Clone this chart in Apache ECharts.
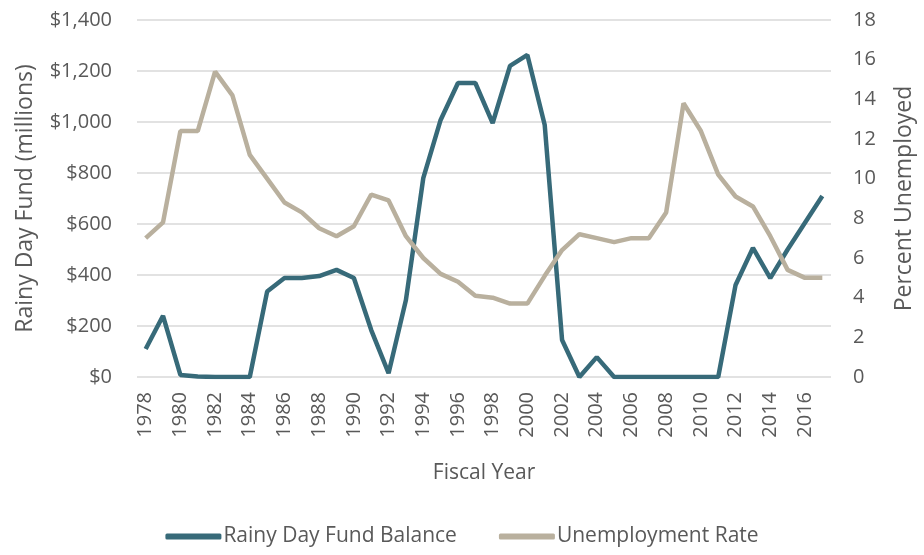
<!DOCTYPE html>
<html>
<head>
<meta charset="utf-8">
<script src="https://cdn.jsdelivr.net/npm/echarts@6/dist/echarts.min.js"></script>
<style>
  html, body { margin: 0; padding: 0; background: #fff; }
  #main { width: 924px; height: 555px; }
</style>
</head>
<body>
<div id="main"></div>
<script>
const years = []
for (let y = 1978; y <= 2017; y++) years.push(String(y))

// millions of dollars
const fundBalance = [110, 240, 8, 2, 0, 0, 0, 335, 388, 388, 396, 420, 388, 184, 15, 302,
  780, 1008, 1153, 1153, 996, 1220, 1263, 988, 145, 0, 78, 0, 0, 0,
  0, 0, 0, 0, 361, 506, 388, 500, 605, 710]

// percent
const unemployment = [7.0, 7.8, 12.4, 12.4, 15.4, 14.2, 11.2, 10.0, 8.8, 8.3, 7.5, 7.1, 7.6, 9.2,
  8.9, 7.1, 6.0, 5.2, 4.8, 4.1, 4.0, 3.7, 3.7, 5.1, 6.4, 7.2, 7.0, 6.8, 7.0, 7.0,
  8.3, 13.8, 12.4, 10.2, 9.1, 8.6, 7.1, 5.4, 5.0, 5.0]

const textColor = '#595959'
const font = 'Open Sans'

const myChart = echarts.init(document.getElementById('main'))

myChart.setOption({
  animation: false,
  textStyle: { fontFamily: font },
  grid: { left: 137, right: 92, top: 20, bottom: 178 },
  legend: {
    bottom: 3,
    left: 'center',
    itemWidth: 56,
    itemHeight: 6,
    itemGap: 42,
    icon: 'roundRect',
    textStyle: { color: textColor, fontSize: 21, padding: [0, 0, 0, -3] },
    data: ['Rainy Day Fund Balance', 'Unemployment Rate']
  },
  xAxis: {
    type: 'category',
    data: years,
    name: 'Fiscal Year',
    nameLocation: 'middle',
    nameGap: 86,
    nameTextStyle: { color: textColor, fontSize: 21 },
    axisLine: { show: false },
    axisTick: { show: false },
    axisLabel: { interval: 1, rotate: 90, color: textColor, fontSize: 20, margin: 15 }
  },
  yAxis: [
    {
      type: 'value',
      min: 0,
      max: 1400,
      interval: 200,
      name: 'Rainy Day Fund (millions)',
      nameLocation: 'middle',
      nameGap: 100,
      nameTextStyle: { color: textColor, fontSize: 23 },
      axisLabel: {
        color: textColor,
        fontSize: 20,
        margin: 25,
        formatter: v => '$' + v.toLocaleString('en-US')
      },
      splitLine: { lineStyle: { color: '#d9d9d9', width: 1.5 } }
    },
    {
      type: 'value',
      min: 0,
      max: 18,
      interval: 2,
      position: 'right',
      name: 'Percent Unemployed',
      nameLocation: 'middle',
      nameRotate: 90,
      nameGap: 62,
      nameTextStyle: { color: textColor, fontSize: 23 },
      axisLabel: { color: textColor, fontSize: 20, margin: 22 },
      splitLine: { show: false }
    }
  ],
  series: [
    {
      name: 'Rainy Day Fund Balance',
      type: 'line',
      yAxisIndex: 0,
      data: fundBalance,
      symbol: 'none',
      color: '#376a79',
      lineStyle: { width: 4.5, color: '#376a79' }
    },
    {
      name: 'Unemployment Rate',
      type: 'line',
      yAxisIndex: 1,
      data: unemployment,
      symbol: 'none',
      color: '#b9b09e',
      lineStyle: { width: 4.5, color: '#b9b09e' }
    }
  ]
})
</script>
</body>
</html>
